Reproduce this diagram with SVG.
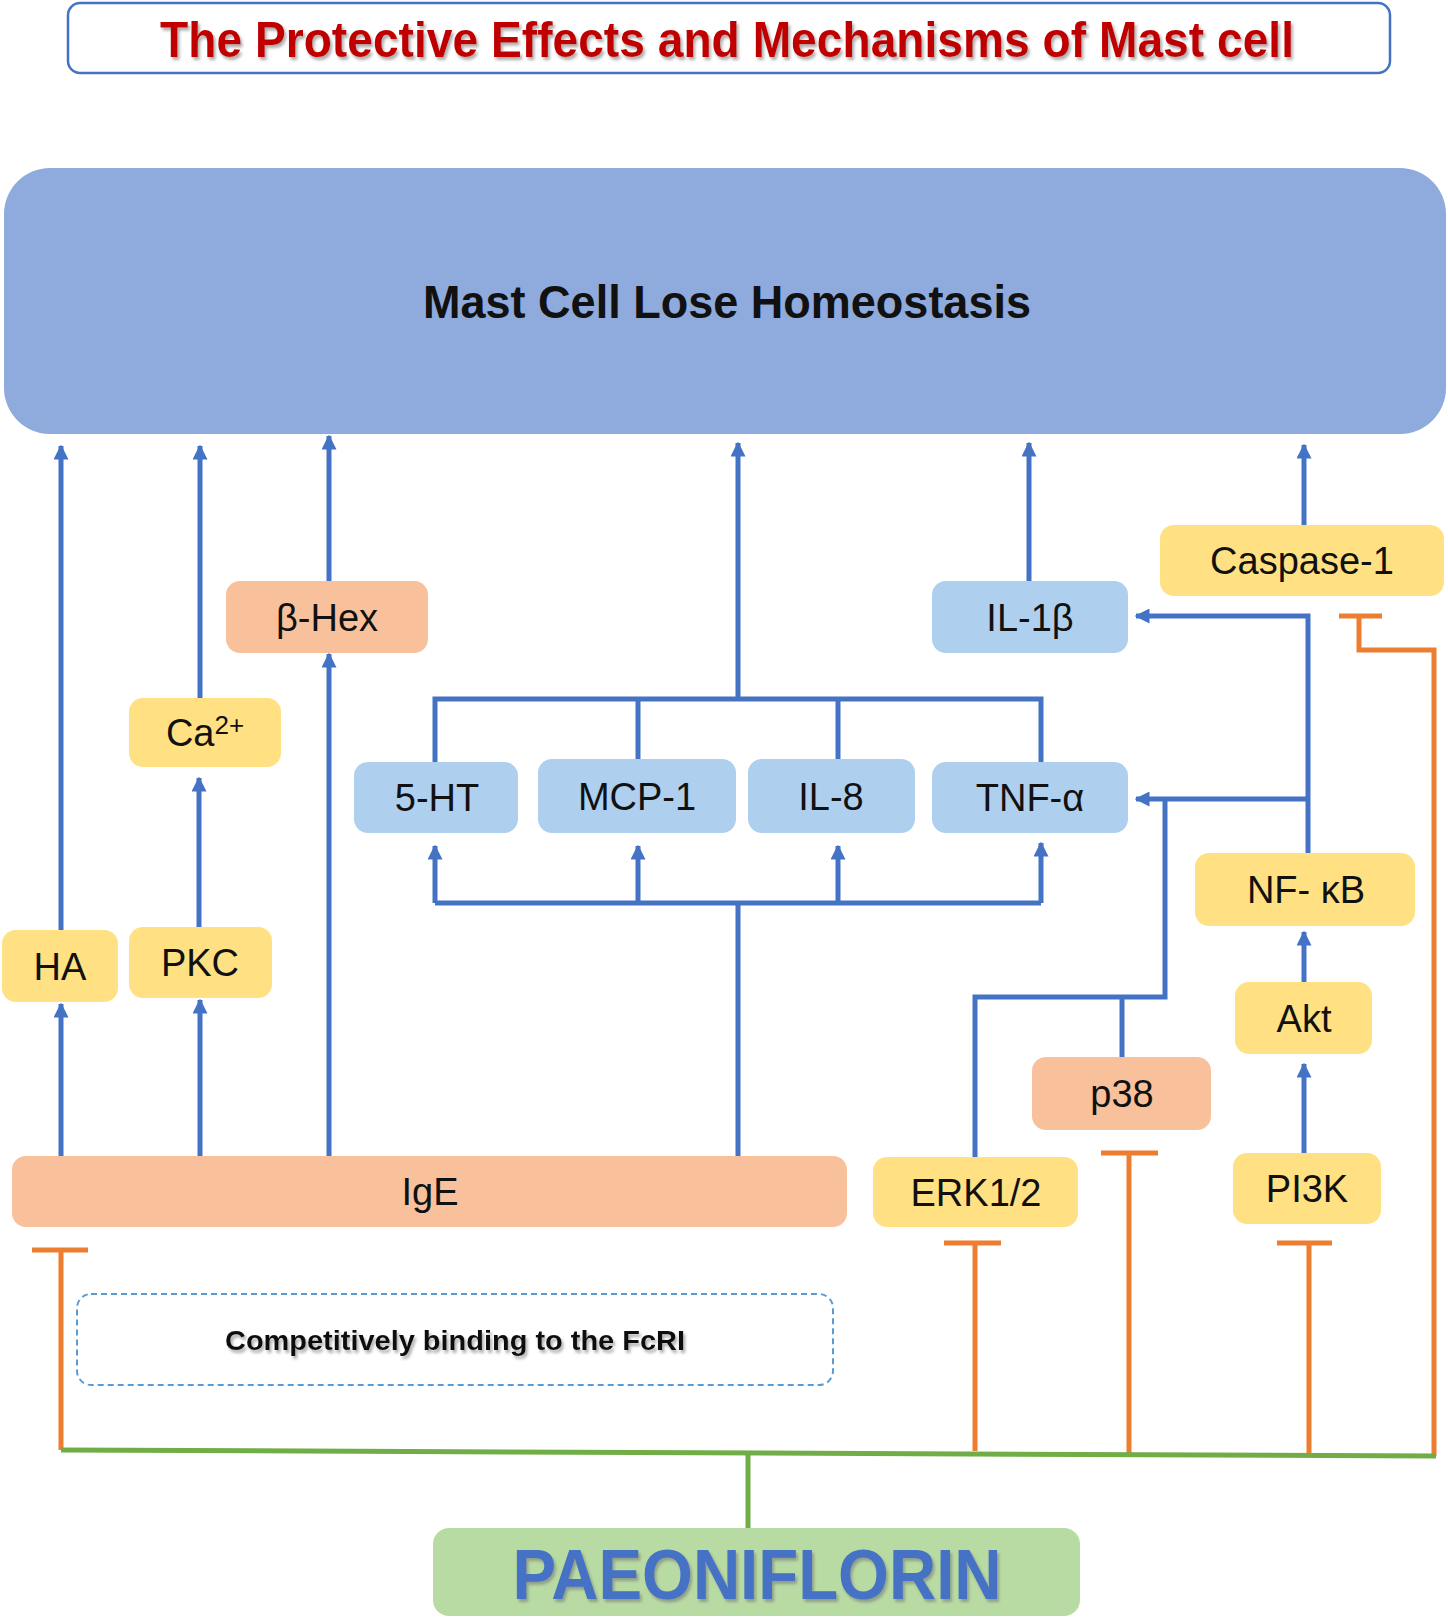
<svg xmlns="http://www.w3.org/2000/svg" width="1448" height="1620" viewBox="0 0 1448 1620">
<style>
.lbl{font-family:"Liberation Sans",Arial,sans-serif;font-size:38px;fill:#111;text-anchor:middle}
.yel{fill:#FFE183}
.pch{fill:#F8C19B}
.blu{fill:#AFCFEE}
.b{stroke:#4472C4;stroke-width:5;fill:none}
.o{stroke:#ED7D31;stroke-width:5;fill:none}
.g{stroke:#70AD47;stroke-width:5;fill:none}
</style>
<defs>
<marker id="ah" viewBox="0 0 10 10" refX="9" refY="5" markerWidth="3" markerHeight="3" orient="auto" markerUnits="strokeWidth">
<path d="M0,0 L10,5 L0,10 z" fill="#4472C4"/>
</marker>
<filter id="sh" x="-5%" y="-20%" width="110%" height="150%">
<feDropShadow dx="2" dy="3" stdDeviation="1.5" flood-color="#777" flood-opacity="0.6"/>
</filter>
</defs>

<g id="title">
<rect x="68" y="3" width="1322" height="70" rx="12" fill="#fff" stroke="#4472C4" stroke-width="2.5"/>
<text x="727" y="57" font-family="Liberation Sans,Arial,sans-serif" font-weight="bold" font-size="50" fill="#C00000" text-anchor="middle" textLength="1134" lengthAdjust="spacingAndGlyphs" filter="url(#sh)">The Protective Effects and Mechanisms of Mast cell</text>
</g>

<g id="mast-cell">
<rect x="4" y="168" width="1442" height="266" rx="46" fill="#8FAADC"/>
<text x="727" y="318" font-family="Liberation Sans,Arial,sans-serif" font-weight="bold" font-size="46" fill="#111" text-anchor="middle" textLength="608" lengthAdjust="spacingAndGlyphs">Mast Cell Lose Homeostasis</text>
</g>

<g id="connectors">
<!-- up to mast cell -->
<line class="b" x1="61" y1="930" x2="61" y2="446" marker-end="url(#ah)"/>
<line class="b" x1="200" y1="698" x2="200" y2="446" marker-end="url(#ah)"/>
<line class="b" x1="329" y1="581" x2="329" y2="436" marker-end="url(#ah)"/>
<line class="b" x1="738" y1="699" x2="738" y2="443" marker-end="url(#ah)"/>
<line class="b" x1="1029" y1="581" x2="1029" y2="443" marker-end="url(#ah)"/>
<line class="b" x1="1304" y1="525" x2="1304" y2="445" marker-end="url(#ah)"/>
<!-- from IgE -->
<line class="b" x1="61" y1="1156" x2="61" y2="1004" marker-end="url(#ah)"/>
<line class="b" x1="200" y1="1156" x2="200" y2="1000" marker-end="url(#ah)"/>
<line class="b" x1="329" y1="1156" x2="329" y2="654" marker-end="url(#ah)"/>
<line class="b" x1="199" y1="927" x2="199" y2="778" marker-end="url(#ah)"/>
<!-- lower bracket -->
<line class="b" x1="738" y1="1156" x2="738" y2="903"/>
<path class="b" d="M435,903 H1041"/>
<line class="b" x1="435" y1="903" x2="435" y2="846" marker-end="url(#ah)"/>
<line class="b" x1="638" y1="903" x2="638" y2="846" marker-end="url(#ah)"/>
<line class="b" x1="838" y1="903" x2="838" y2="846" marker-end="url(#ah)"/>
<line class="b" x1="1041" y1="903" x2="1041" y2="843" marker-end="url(#ah)"/>
<!-- upper bracket -->
<path class="b" d="M435,762 V699 H1041 V762"/>
<line class="b" x1="638" y1="699" x2="638" y2="759"/>
<line class="b" x1="838" y1="699" x2="838" y2="759"/>
<!-- NF-kB branches -->
<path class="b" d="M1308,853 V616 H1136" marker-end="url(#ah)"/>
<line class="b" x1="1308" y1="799" x2="1136" y2="799" marker-end="url(#ah)"/>
<!-- ERK / p38 -->
<path class="b" d="M975,1157 V997 H1165 V799"/>
<line class="b" x1="1122" y1="1057" x2="1122" y2="997"/>
<!-- PI3K / Akt -->
<line class="b" x1="1304" y1="1153" x2="1304" y2="1064" marker-end="url(#ah)"/>
<line class="b" x1="1304" y1="982" x2="1304" y2="932" marker-end="url(#ah)"/>
<!-- inhibitions -->
<path class="o" d="M32,1250 H88 M61,1250 V1450"/>
<path class="o" d="M944,1243 H1001 M975,1243 V1451"/>
<path class="o" d="M1101,1153 H1158 M1129,1153 V1456"/>
<path class="o" d="M1277,1243 H1332 M1309,1243 V1455"/>
<path class="o" d="M1339,616 H1382 M1359,616 V650 H1434 V1456"/>
<!-- paeoniflorin -->
<path class="g" d="M61,1450 L1436,1456"/>
<line class="g" x1="748" y1="1453" x2="748" y2="1528"/>
</g>

<g id="beta-hex"><rect class="pch" x="226" y="581" width="202" height="72" rx="14"/><text class="lbl" x="327" y="631">β-Hex</text></g>
<g id="ca"><rect class="yel" x="129" y="698" width="152" height="69" rx="14"/><text class="lbl" x="205" y="746">Ca<tspan font-size="26" dy="-12">2+</tspan></text></g>
<g id="ha"><rect class="yel" x="2" y="930" width="116" height="72" rx="14"/><text class="lbl" x="60" y="980">HA</text></g>
<g id="pkc"><rect class="yel" x="129" y="927" width="143" height="71" rx="14"/><text class="lbl" x="200" y="976">PKC</text></g>
<g id="ht5"><rect class="blu" x="354" y="762" width="164" height="71" rx="14"/><text class="lbl" x="437" y="811">5-HT</text></g>
<g id="mcp1"><rect class="blu" x="538" y="759" width="198" height="74" rx="14"/><text class="lbl" x="637" y="810">MCP-1</text></g>
<g id="il8"><rect class="blu" x="748" y="759" width="167" height="74" rx="14"/><text class="lbl" x="831" y="810">IL-8</text></g>
<g id="tnf"><rect class="blu" x="932" y="762" width="196" height="71" rx="14"/><text class="lbl" x="1030" y="811">TNF-α</text></g>
<g id="il1b"><rect class="blu" x="932" y="581" width="196" height="72" rx="14"/><text class="lbl" x="1030" y="631">IL-1β</text></g>
<g id="caspase1"><rect class="yel" x="1160" y="525" width="284" height="71" rx="14"/><text class="lbl" x="1302" y="574">Caspase-1</text></g>
<g id="nfkb"><rect class="yel" x="1195" y="853" width="220" height="73" rx="14"/><text class="lbl" x="1306" y="903">NF- κB</text></g>
<g id="akt"><rect class="yel" x="1235" y="982" width="137" height="72" rx="14"/><text class="lbl" x="1304" y="1032">Akt</text></g>
<g id="p38"><rect class="pch" x="1032" y="1057" width="179" height="73" rx="14"/><text class="lbl" x="1122" y="1107">p38</text></g>
<g id="erk"><rect class="yel" x="873" y="1157" width="205" height="70" rx="14"/><text class="lbl" x="976" y="1206">ERK1/2</text></g>
<g id="pi3k"><rect class="yel" x="1233" y="1153" width="148" height="71" rx="14"/><text class="lbl" x="1307" y="1202">PI3K</text></g>
<g id="ige"><rect class="pch" x="12" y="1156" width="835" height="71" rx="14"/><text class="lbl" x="430" y="1205">IgE</text></g>

<g id="fcri">
<rect x="77" y="1294" width="756" height="91" rx="14" fill="#fff" stroke="#5B9BD5" stroke-width="2" stroke-dasharray="6,4"/>
<text x="455" y="1350" font-family="Liberation Sans,Arial,sans-serif" font-weight="bold" font-size="28" fill="#111" text-anchor="middle" textLength="460" lengthAdjust="spacingAndGlyphs" filter="url(#sh)">Competitively binding to the FcRI</text>
</g>

<g id="paeoniflorin">
<rect x="433" y="1528" width="647" height="88" rx="16" fill="#B8DBA3"/>
<text x="757" y="1599" font-family="Liberation Sans,Arial,sans-serif" font-weight="bold" font-size="70" fill="#4472C4" text-anchor="middle" textLength="489" lengthAdjust="spacingAndGlyphs" filter="url(#sh)">PAEONIFLORIN</text>
</g>
</svg>
